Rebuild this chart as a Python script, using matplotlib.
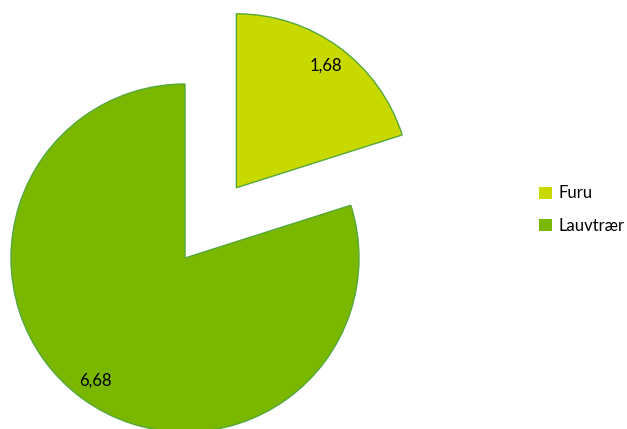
import matplotlib
matplotlib.use("Agg")
import matplotlib.pyplot as plt

# data
labels = ['Furu', 'Lauvtrær']
values = [1.68, 6.68]
colors = ['#C8D900', '#7AB800']

plt.rcParams['font.family'] = ['Lato', 'DejaVu Sans']

fig = plt.figure(figsize=(6.27, 4.29), dpi=100)
ax = fig.add_axes([0, 0, 1, 1])

# explode is in data units here (pixels)
wedges, texts, autotexts = ax.pie(
    values, colors=colors, startangle=90, counterclock=False,
    explode=[87, 0], center=(185, 171), radius=174,
    autopct=lambda p: f"{p * sum(values) / 100:.2f}".replace('.', ','),
    pctdistance=0.87, frame=True,
    wedgeprops=dict(edgecolor='#55A83A', linewidth=1),
    textprops=dict(fontsize=12, color='black'))
ax.set_xlim(0, 627)
ax.set_ylim(0, 429)
ax.set_aspect('equal')
ax.axis('off')

leg = ax.legend(wedges, labels, loc='center left', bbox_to_anchor=(0.860, 0.511),
                frameon=False, fontsize=12, handlelength=0.75, handleheight=0.75,
                handletextpad=0.4, labelspacing=1.0, borderpad=0, borderaxespad=0)
for h in leg.legend_handles:
    h.set_linewidth(0)

fig.savefig('out.png', dpi=100)
